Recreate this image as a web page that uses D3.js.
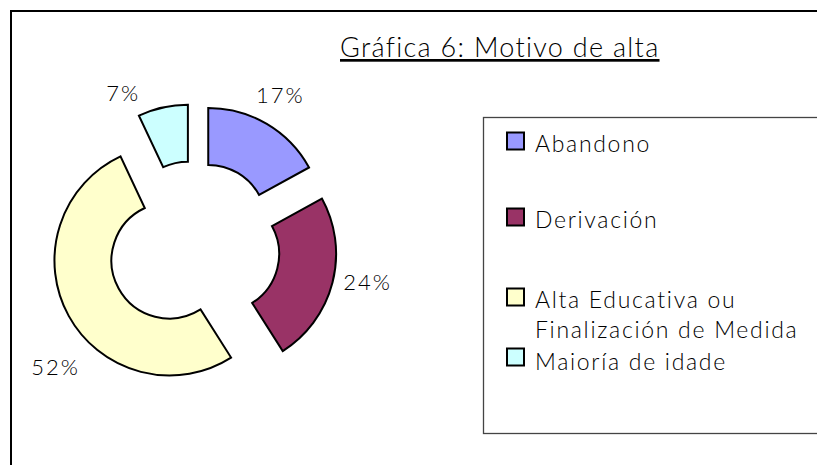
<!DOCTYPE html>
<html>
<head>
<meta charset="utf-8">
<script src="https://cdn.jsdelivr.net/npm/d3@7"></script>
<style>
  html, body { margin: 0; padding: 0; background: #fff; }
  svg { display: block; }
  text { font-family: "Lato", "Open Sans", sans-serif; font-weight: 300; fill: #000; }
</style>
</head>
<body>
<script>
// ---- data ----
const title = "Gráfica 6: Motivo de alta";
const categories = ["Abandono", "Derivación", "Alta Educativa ou Finalización de Medida", "Maioría de idade"];
const legendLines = [["Abandono"], ["Derivación"], ["Alta Educativa ou", "Finalización de Medida"], ["Maioría de idade"]];
const values = [17, 24, 52, 7];
const colors = ["#9999FF", "#993366", "#FFFFCC", "#CCFFFF"];

// ---- layout ----
const W = 817, H = 465;
const cx = 194, cy = 247;
const outerR = 115, innerR = 58, explode = 28;
const labelR = [175, 177, 183, 170];
const labelAngleShift = [-1, -3, -12, -12]; // degrees

const svg = d3.select("body").append("svg").attr("width", W).attr("height", H);

// outer frame
svg.append("rect").attr("x", 11).attr("y", 11).attr("width", W + 20).attr("height", H + 20)
  .attr("fill", "none").attr("stroke", "#000").attr("stroke-width", 2);

// title
svg.append("text").attr("x", 340).attr("y", 57)
  .style("font-size", "27px").style("letter-spacing", "1.3px").style("text-decoration", "underline")
  .text(title);

// pie
const pie = d3.pie().sort(null).value(d => d).startAngle(0).endAngle(2 * Math.PI);
const arcs = pie(values);
const arc = d3.arc().innerRadius(innerR).outerRadius(outerR);

const g = svg.append("g").attr("transform", `translate(${cx},${cy})`);
g.selectAll("path.slice").data(arcs).join("path")
  .attr("class", "slice")
  .attr("d", arc)
  .attr("fill", (d, i) => colors[i])
  .attr("stroke", "#000").attr("stroke-width", 2).attr("stroke-linejoin", "miter")
  .attr("transform", d => {
    const a = (d.startAngle + d.endAngle) / 2;
    return `translate(${explode * Math.sin(a)},${-explode * Math.cos(a)})`;
  });

// labels
g.selectAll("text.lbl").data(arcs).join("text")
  .attr("class", "lbl")
  .attr("text-anchor", "middle")
  .attr("dominant-baseline", "central")
  .style("font-size", "22px")
  .style("letter-spacing", "2px")
  .attr("x", (d, i) => {
    const a = (d.startAngle + d.endAngle) / 2 + labelAngleShift[i] * Math.PI / 180;
    return labelR[i] * Math.sin(a);
  })
  .attr("y", (d, i) => {
    const a = (d.startAngle + d.endAngle) / 2 + labelAngleShift[i] * Math.PI / 180;
    return -labelR[i] * Math.cos(a);
  })
  .text(d => d.value + "%");

// legend
svg.append("rect").attr("x", 483.5).attr("y", 117.5).attr("width", 400).attr("height", 316)
  .attr("fill", "#fff").attr("stroke", "#444").attr("stroke-width", 1.3);

const legendY = [141, 217, 297, 357]; // square centre rows
const lg = svg.append("g");
const items = lg.selectAll("g").data(categories).join("g")
  .attr("transform", (d, i) => `translate(507,${legendY[i]})`);
items.append("rect").attr("x", 0).attr("y", -8.5).attr("width", 17).attr("height", 17)
  .attr("fill", (d, i) => colors[i]).attr("stroke", "#000").attr("stroke-width", 2);
items.each(function (d, i) {
  const t = d3.select(this).append("text").attr("x", 28).attr("y", i === 3 ? 13 : 11)
    .style("font-size", "23px").style("letter-spacing", "1.7px");
  legendLines[i].forEach((ln, j) => {
    t.append("tspan").attr("x", 28).attr("dy", j === 0 ? 0 : 30).text(ln);
  });
});
</script>
</body>
</html>
